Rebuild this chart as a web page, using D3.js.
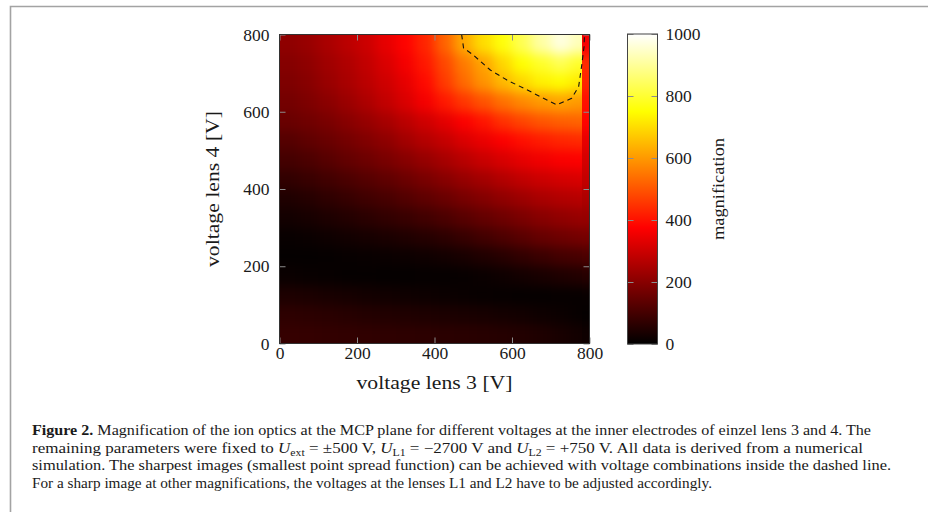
<!DOCTYPE html>
<html>
<head>
<meta charset="utf-8">
<script src="https://cdn.jsdelivr.net/npm/d3@7"></script>
<style>
  body { margin: 0; background: #fff; }
  svg text { font-family: "Liberation Serif", "DejaVu Serif", serif; fill: #1a1a1a; }
  .tick line { stroke: #8c8c8c; }
</style>
</head>
<body>
<svg width="928" height="512"></svg>
<script>
// bin edges of the two lens voltages [V]
const lens3Edges = [0, 50, 100, 150, 200, 250, 300, 350, 400, 450, 500, 550, 600, 650, 700, 750, 780, 800];
const lens4Edges = [800, 750, 700, 650, 600, 550, 500, 450, 400, 350, 300, 250, 200, 150, 100, 50, 0]; // top to bottom

// magnification, one row per lens-4 bin (top row first), one value per lens-3 bin
const magnification = [
  [210, 225, 250, 275, 300, 340, 380, 430, 520, 620, 700, 760, 830, 910, 970, 930, 360],
  [195, 210, 235, 258, 285, 320, 360, 410, 480, 555, 615, 690, 750, 790, 830, 790, 440],
  [185, 200, 225, 248, 275, 305, 340, 390, 460, 530, 590, 645, 690, 730, 745, 720, 430],
  [170, 185, 205, 228, 255, 285, 320, 360, 410, 455, 495, 540, 575, 600, 615, 600, 400],
  [155, 165, 180, 200, 220, 245, 275, 305, 335, 370, 405, 445, 475, 500, 515, 520, 380],
  [125, 140, 155, 172, 190, 210, 238, 265, 290, 320, 345, 370, 395, 415, 430, 435, 340],
  [100, 112, 128, 145, 160, 178, 198, 220, 245, 270, 295, 318, 338, 355, 368, 372, 310],
  [72, 82, 95, 110, 125, 140, 158, 178, 198, 220, 240, 262, 282, 298, 310, 318, 285],
  [45, 55, 68, 80, 92, 105, 120, 138, 155, 175, 192, 212, 230, 248, 260, 268, 255],
  [28, 34, 42, 52, 62, 72, 82, 96, 110, 128, 145, 162, 180, 198, 212, 222, 220],
  [12, 15, 20, 26, 32, 38, 46, 55, 65, 80, 95, 112, 130, 148, 160, 170, 172],
  [6, 6, 8, 10, 12, 14, 18, 22, 28, 36, 46, 58, 72, 86, 98, 106, 110],
  [14, 12, 10, 8, 7, 6, 6, 7, 8, 10, 14, 20, 28, 36, 44, 50, 54],
  [42, 40, 36, 32, 28, 25, 22, 19, 16, 13, 11, 9, 8, 8, 9, 10, 12],
  [66, 63, 60, 56, 52, 49, 46, 43, 40, 37, 34, 30, 26, 21, 16, 10, 8],
  [78, 76, 74, 72, 70, 68, 66, 64, 62, 60, 58, 55, 50, 44, 36, 26, 20]
];

// sharpest-image region (dashed line)
const sharpLens3 = [470, 475, 500, 544, 587, 638, 699, 716, 754, 772, 780, 786, 787, 470];
const sharpLens4 = [800, 765, 747, 708, 682, 657, 626, 618, 635, 665, 721, 769, 800, 800];

const axisTicks = [0, 200, 400, 600, 800];
const colorTicks = [0, 200, 400, 600, 800, 1000];

const svg = d3.select("svg");
const defs = svg.append("defs");

const x = d3.scaleLinear().domain([0, 800]).range([279.5, 589.5]);
const y = d3.scaleLinear().domain([0, 800]).range([343.5, 34.5]);
const color = d3.scaleLinear()
  .domain([0, 375, 750, 1000])
  .range(["#000000", "#ff0000", "#ffff00", "#ffffff"])
  .clamp(true);

// figure frame
svg.append("path")
  .attr("d", "M10.5,512V6.5H928")
  .attr("fill", "none")
  .attr("stroke", "#a3a3a3")
  .attr("stroke-width", 1.6);

// heat map cells (soft-edged like the original raster, last column kept sharp)
defs.append("clipPath").attr("id", "plot-clip")
  .append("rect")
  .attr("x", x(0)).attr("y", y(800))
  .attr("width", x(800) - x(0)).attr("height", y(0) - y(800));
defs.append("filter").attr("id", "soft")
  .attr("x", "-10%").attr("y", "-10%").attr("width", "120%").attr("height", "120%")
  .attr("color-interpolation-filters", "sRGB")
  .append("feGaussianBlur").attr("stdDeviation", 6);
defs.append("filter").attr("id", "soft-v")
  .attr("x", "-10%").attr("y", "-10%").attr("width", "120%").attr("height", "120%")
  .attr("color-interpolation-filters", "sRGB")
  .append("feGaussianBlur").attr("stdDeviation", "0 6");

const lastRow = magnification.length - 1;
const lastCol = lens3Edges.length - 2;
const pad = 18;
const cells = [];
magnification.forEach((row, i) => {
  row.forEach((v, j) => {
    cells.push({ i, j, x0: lens3Edges[j], x1: lens3Edges[j + 1], y0: lens4Edges[i + 1], y1: lens4Edges[i], v });
  });
});

function drawCells(g, data) {
  g.selectAll("rect")
    .data(data)
    .join("rect")
    .attr("x", d => x(d.x0) - (d.j === 0 ? pad : 0))
    .attr("y", d => y(d.y1) - (d.i === 0 ? pad : 0))
    .attr("width", d => x(d.x1) - x(d.x0) + 0.5 + (d.j === 0 ? pad : 0) + (d.j === lastCol - 1 ? pad : 0))
    .attr("height", d => y(d.y0) - y(d.y1) + 0.5 + (d.i === 0 ? pad : 0) + (d.i === lastRow ? pad : 0))
    .attr("fill", d => color(d.v))
    .attr("shape-rendering", "crispEdges");
}

const heat = svg.append("g").attr("clip-path", "url(#plot-clip)");
drawCells(heat.append("g").attr("filter", "url(#soft)"), cells.filter(d => d.j < lastCol));
drawCells(heat.append("g").attr("filter", "url(#soft-v)"), cells.filter(d => d.j === lastCol));

// dashed contour
const sharp = sharpLens3.map((v, i) => [v, sharpLens4[i]]);
svg.append("path")
  .datum(sharp)
  .attr("d", d3.line().x(d => x(d[0])).y(d => y(d[1])))
  .attr("fill", "none")
  .attr("stroke", "#111")
  .attr("stroke-width", 1.1)
  .attr("stroke-dasharray", "5,4");

// axes with inward ticks on all four sides
function styleAxis(sel) {
  sel.select(".domain").remove();
  sel.attr("font-family", null).attr("font-size", null);
  sel.selectAll("text").style("font-size", "17.5px");
}
svg.append("g")
  .attr("transform", `translate(0,${y(0)})`)
  .call(d3.axisBottom(x).tickValues(axisTicks).tickSize(-6).tickPadding(3))
  .call(styleAxis);
svg.append("g")
  .attr("transform", `translate(0,${y(800)})`)
  .call(d3.axisTop(x).tickValues(axisTicks).tickSize(-6).tickFormat(""))
  .call(styleAxis);
svg.append("g")
  .attr("transform", `translate(${x(0)},0)`)
  .call(d3.axisLeft(y).tickValues(axisTicks).tickSize(-6).tickPadding(10))
  .call(styleAxis);
svg.append("g")
  .attr("transform", `translate(${x(800)},0)`)
  .call(d3.axisRight(y).tickValues(axisTicks).tickSize(-6).tickFormat(""))
  .call(styleAxis);

svg.append("rect")
  .attr("x", x(0)).attr("y", y(800))
  .attr("width", x(800) - x(0)).attr("height", y(0) - y(800))
  .attr("fill", "none").attr("stroke", "#333").attr("stroke-width", 1);

svg.append("text")
  .attr("x", (x(0) + x(800)) / 2).attr("y", 389)
  .attr("text-anchor", "middle").style("font-size", "18px")
  .attr("textLength", 156).attr("lengthAdjust", "spacingAndGlyphs")
  .text("voltage lens 3 [V]");
svg.append("text")
  .attr("transform", `translate(219,${(y(0) + y(800)) / 2}) rotate(-90)`)
  .attr("text-anchor", "middle").style("font-size", "18px")
  .attr("textLength", 156).attr("lengthAdjust", "spacingAndGlyphs")
  .text("voltage lens 4 [V]");

// colour bar
const cb = d3.scaleLinear().domain([0, 1000]).range([344, 34]);
const cbX0 = 627.5, cbX1 = 657.5;
const grad = defs.append("linearGradient")
  .attr("id", "hot").attr("x1", 0).attr("y1", 1).attr("x2", 0).attr("y2", 0);
grad.selectAll("stop")
  .data(color.domain())
  .join("stop")
  .attr("offset", d => d / 1000)
  .attr("stop-color", d => color(d));
svg.append("rect")
  .attr("x", cbX0).attr("y", cb(1000))
  .attr("width", cbX1 - cbX0).attr("height", cb(0) - cb(1000))
  .attr("fill", "url(#hot)");
svg.append("g")
  .attr("transform", `translate(${cbX1},0)`)
  .call(d3.axisRight(cb).tickValues(colorTicks).tickSize(-6).tickPadding(8).tickFormat(d3.format("d")))
  .call(styleAxis);
svg.append("g")
  .attr("transform", `translate(${cbX0},0)`)
  .call(d3.axisLeft(cb).tickValues(colorTicks).tickSize(-6).tickFormat(""))
  .call(styleAxis);
svg.append("rect")
  .attr("x", cbX0).attr("y", cb(1000))
  .attr("width", cbX1 - cbX0).attr("height", cb(0) - cb(1000))
  .attr("fill", "none").attr("stroke", "#444").attr("stroke-width", 1);
svg.append("text")
  .attr("transform", `translate(724,${(cb(0) + cb(1000)) / 2}) rotate(-90)`)
  .attr("text-anchor", "middle").style("font-size", "17px")
  .attr("textLength", 102).attr("lengthAdjust", "spacingAndGlyphs")
  .text("magnification");

// caption
const capX = 32, capSize = 14.5;
function capLine(yPos) {
  return svg.append("text").attr("x", capX).attr("y", yPos).style("font-size", capSize + "px");
}
const cap1 = capLine(435);
cap1.append("tspan").style("font-weight", "bold").text("Figure 2.");
cap1.append("tspan").text(" Magnification of the ion optics at the MCP plane for different voltages at the inner electrodes of einzel lens 3 and 4. The");

const cap2 = capLine(452.7);
const parts = [
  ["remaining parameters were fixed to ", "ext", " = \u00b1500 V, "],
  ["", "L1", " = \u22122700 V and "],
  ["", "L2", " = +750 V. All data is derived from a numerical"]
];
parts.forEach(([pre, sub, post]) => {
  if (pre) cap2.append("tspan").text(pre);
  cap2.append("tspan").style("font-style", "italic").text("U");
  cap2.append("tspan").attr("dy", 3).style("font-size", "10px").text(sub);
  cap2.append("tspan").attr("dy", -3).text(post);
});

const cap3 = capLine(470.4)
  .text("simulation. The sharpest images (smallest point spread function) can be achieved with voltage combinations inside the dashed line.");
const cap4 = capLine(488.1)
  .text("For a sharp image at other magnifications, the voltages at the lenses L1 and L2 have to be adjusted accordingly.");

[[cap1, 839], [cap2, 831], [cap3, 859], [cap4, 680]].forEach(([t, w]) =>
  t.attr("textLength", w).attr("lengthAdjust", "spacingAndGlyphs"));
</script>
</body>
</html>
